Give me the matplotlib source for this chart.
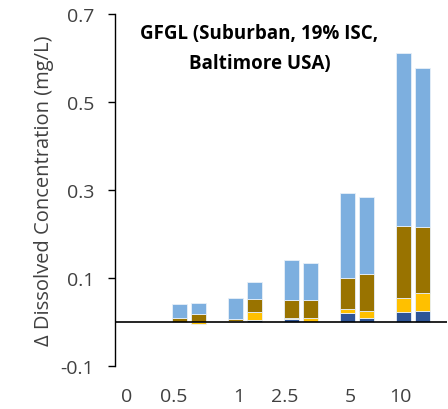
import numpy as np
import matplotlib

matplotlib.use('Agg')
import matplotlib.pyplot as plt

# categories (µg/L dose) and the two replicate bars per category
categories = ['0', '0.5', '1', '2.5', '5', '10']
group_index = [1, 2, 3, 4, 5]  # '0' has no bars

# stacked components, bottom to top, for bar A and bar B of each group
dark_blue_a = [0.000, 0.001, 0.006, 0.021, 0.023]
yellow_a = [0.000, 0.002, 0.003, 0.008, 0.032]
brown_a = [0.009, 0.004, 0.040, 0.072, 0.163]
light_blue_a = [0.032, 0.048, 0.092, 0.193, 0.393]

dark_blue_b = [0.000, 0.005, 0.001, 0.008, 0.026]
yellow_b = [-0.005, 0.017, 0.008, 0.017, 0.039]
brown_b = [0.019, 0.030, 0.040, 0.083, 0.150]
light_blue_b = [0.025, 0.040, 0.084, 0.176, 0.363]

y_ticks = [-0.1, 0.1, 0.3, 0.5, 0.7]
y_tick_labels = ['-0.1', '0.1', '0.3', '0.5', '0.7']

colours = ['#2F5597', '#FFC000', '#997300', '#7DAFDF']

plt.rcParams['font.family'] = ['Open Sans', 'DejaVu Sans']

fig = plt.figure(figsize=(4.48, 4.10), dpi=100)
ax = fig.add_axes([0.2567, 0.1049, 0.742, 0.8585])


def stack(ax, xs, layers, width):
    pos = np.zeros(len(xs))
    neg = np.zeros(len(xs))
    for vals, c in zip(layers, colours):
        vals = np.array(vals)
        bottom = np.where(vals >= 0, pos, neg)
        ax.bar(xs, vals, width, bottom=bottom, color=c,
               edgecolor='#E8F0F8', linewidth=0.6, zorder=2)
        pos = pos + np.clip(vals, 0, None)
        neg = neg + np.clip(vals, None, 0)


x = np.array(group_index, dtype=float)
w = 0.268
off = 0.17
stack(ax, x - off, [dark_blue_a, yellow_a, brown_a, light_blue_a], w)
stack(ax, x + off, [dark_blue_b, yellow_b, brown_b, light_blue_b], w)

ax.axhline(0, color='black', linewidth=1.2, zorder=3)

ax.set_xlim(-0.3125, 5.616)
ax.set_ylim(-0.1, 0.7)
ax.set_yticks(y_ticks)
ax.set_yticklabels(y_tick_labels)
label_pos = [-0.1, 0.74, 1.9, 2.72, 3.88, 4.78]
ax.set_xticks(label_pos)
ax.set_xticklabels(categories)
ax.tick_params(axis='x', length=0, pad=15, labelsize=14, colors='#404040')
ax.tick_params(axis='y', direction='out', length=5, width=1, pad=10,
               labelsize=14, labelcolor='#404040')
for s in ['top', 'right', 'bottom']:
    ax.spines[s].set_visible(False)
ax.spines['left'].set_linewidth(1)

ax.set_ylabel('Δ Dissolved Concentration (mg/L)', fontsize=14.5,
              color='#404040', labelpad=5)

ax.text(0.435, 0.975, 'GFGL (Suburban, 19% ISC,\nBaltimore USA)',
        transform=ax.transAxes, ha='center', va='top', fontsize=13.5,
        fontweight='bold', linespacing=1.65)

fig.savefig('out.png', dpi=100)
